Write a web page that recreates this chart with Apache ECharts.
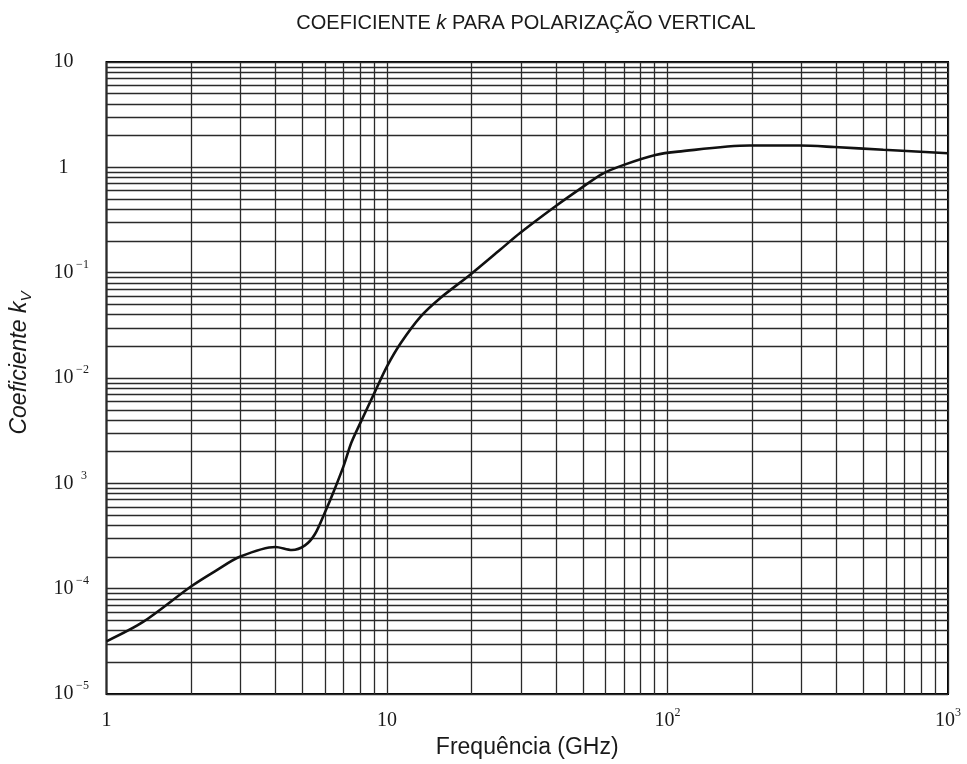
<!DOCTYPE html>
<html>
<head>
<meta charset="utf-8">
<script src="https://cdn.jsdelivr.net/npm/echarts@6/dist/echarts.min.js"></script>
<style>
  html, body { margin: 0; padding: 0; background: #fff; }
  #chart { width: 967px; height: 764px; }
</style>
</head>
<body>
<div id="chart"></div>
<script>
// frequency (GHz) and coefficient kv
const freqs = [1, 1.35, 2, 2.45, 3, 4, 4.58, 5.1, 5.53, 6, 6.43, 7, 7.46, 8.09, 9.02, 10,
  11.2, 13.2, 15.5, 19.8, 25.3, 29.8, 40.1, 49.8, 58.6, 69.9, 90.5, 109, 196, 296, 393, 588, 1000];
const kv = [3.17e-5, 4.84e-5, 1.05e-4, 1.48e-4, 2.02e-4, 2.49e-4, 2.33e-4, 2.58e-4, 3.29e-4, 5.27e-4,
  8.16e-4, 1.46e-3, 2.43e-3, 3.9e-3, 7.23e-3, 1.29e-2, 2.15e-2, 3.85e-2, 5.76e-2, 9.57e-2, 0.165,
  0.238, 0.432, 0.649, 0.868, 1.056, 1.31, 1.41, 1.61, 1.61, 1.56, 1.47, 1.36];

// tick labels, one per decade
const xTickLabels = ["{b|1}", "{b|10}", "{b|10}{s|2}", "{b|10}{s|3}"];
const yTickLabels = ["{b|10}{s|−5}", "{b|10}{s|−4}", "{b|10}{s| 3}", "{b|10}{s|−2}",
  "{b|10}{s|−1}", "{b|1}{s|\u00a0}", "{b|10}{s|\u00a0}"];

// decades and in-between multipliers for the log grid
const xDecades = [1, 10, 100];
const yDecades = [1e-5, 1e-4, 1e-3, 1e-2, 1e-1, 1];
const minorSteps = [2, 3, 4, 5, 6, 7, 8, 9];

const gridColor = "#2a2a2a";
const textColor = "#1a1a1a";

// minor grid: one segment per line, across the whole plot
let gridLines = [];
xDecades.forEach(d => minorSteps.forEach(m => {
  gridLines.push({ coords: [[d * m, 1e-5], [d * m, 10]] });
}));
yDecades.forEach(d => minorSteps.forEach(m => {
  gridLines.push({ coords: [[1, d * m], [1000, d * m]] });
}));

const serif = "Liberation Serif";
const tickRich = {
  b: { fontFamily: serif, fontSize: 20, color: textColor, lineHeight: 28 },
  s: { fontFamily: serif, fontSize: 12, color: textColor, lineHeight: 8, verticalAlign: "top" }
};

const chart = echarts.init(document.getElementById("chart"));
chart.setOption({
  animation: false,
  backgroundColor: "#fff",
  title: {
    text: "{a|COEFICIENTE }{k|k}{a| PARA POLARIZAÇÃO VERTICAL}",
    left: 521,
    textAlign: "center",
    top: 8,
    textStyle: {
      fontWeight: "normal",
      rich: {
        a: { fontFamily: "Liberation Sans", fontSize: 20, fontWeight: "normal", color: textColor },
        k: { fontFamily: "Liberation Sans", fontSize: 20, fontWeight: "normal", fontStyle: "italic", color: textColor }
      }
    }
  },
  grid: {
    left: 103,
    right: 19,
    top: 62,
    bottom: 69,
    show: true,
    borderColor: "#000",
    borderWidth: 2
  },
  xAxis: {
    type: "log",
    logBase: 10,
    min: 1,
    max: 1000,
    name: "Frequência (GHz)",
    nameLocation: "middle",
    nameGap: 34,
    nameTextStyle: { fontFamily: "Liberation Sans", fontSize: 23, color: textColor },
    axisLine: { show: false },
    axisTick: { show: false },
    axisLabel: {
      margin: 13,
      formatter: v => xTickLabels[Math.round(Math.log10(v))],
      rich: tickRich
    },
    splitLine: { show: true, lineStyle: { color: gridColor, width: 1.3 } }
  },
  yAxis: {
    type: "log",
    logBase: 10,
    min: 1e-5,
    max: 10,
    name: "{i|Coeficiente }{k|k}{v|V}",
    nameLocation: "middle",
    nameGap: 72,
    nameTextStyle: {
      padding: [0, 0, 0, 30],
      rich: {
        i: { fontFamily: "Liberation Sans", fontSize: 23, fontStyle: "italic", color: textColor, lineHeight: 30 },
        k: { fontFamily: "Liberation Sans", fontSize: 23, fontStyle: "italic", color: textColor, lineHeight: 30 },
        v: { fontFamily: "Liberation Sans", fontSize: 15, fontStyle: "italic", color: textColor, lineHeight: 8, verticalAlign: "bottom" }
      }
    },
    axisLine: { show: false },
    axisTick: { show: false },
    axisLabel: {
      margin: 16,
      formatter: v => yTickLabels[Math.round(Math.log10(v)) + 5],
      rich: {
        b: Object.assign({}, tickRich.b, { width: 22, align: "right" }),
        s: Object.assign({}, tickRich.s, { width: 16, align: "left" })
      }
    },
    splitLine: { show: true, lineStyle: { color: gridColor, width: 1.3 } }
  },
  series: [
    {
      type: "lines",
      coordinateSystem: "cartesian2d",
      silent: true,
      z: 1,
      lineStyle: { color: gridColor, width: 1.3, opacity: 1, curveness: 0 },
      data: gridLines
    },
    {
      name: "kv",
      type: "line",
      z: 10,
      smooth: 0.3,
      showSymbol: false,
      data: freqs.map((f, i) => [f, kv[i]]),
      lineStyle: { color: "#111", width: 2.6 }
    }
  ]
});
</script>
</body>
</html>
